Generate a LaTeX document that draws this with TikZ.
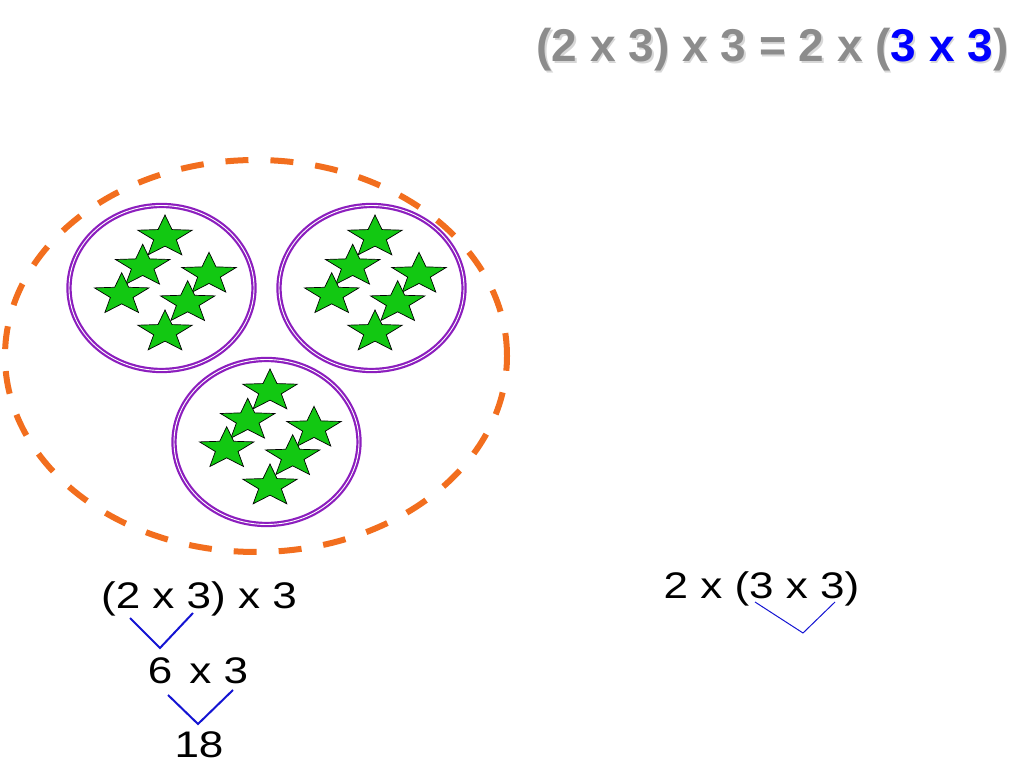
\documentclass[tikz,border=0pt]{standalone}
\usepackage{fontspec}
\setmainfont{Liberation Sans}
\usetikzlibrary{shapes.geometric}

\definecolor{ringorange}{RGB}{242,110,30}
\definecolor{ringpurple}{RGB}{140,30,190}
\definecolor{stargreen}{RGB}{18,200,18}
\definecolor{titlegray}{RGB}{140,140,140}
\definecolor{shadowgray}{RGB}{215,215,215}
\definecolor{stepblue}{RGB}{20,20,210}

\tikzset{
  greenstar/.style={star,star points=5,star point ratio=2.4,minimum size=44pt,
    inner sep=0pt,draw=black,line width=0.7pt,fill=stargreen,xscale=1.3,transform shape},
  groupring/.style={draw=ringpurple,line width=2.2pt,double=white,double distance=0.9pt},
  bigring/.style={draw=ringorange,line width=6pt,dash pattern=on 23pt off 22pt},
  sumtext/.style={inner sep=0pt,anchor=base,font=\fontsize{37}{40}\selectfont},
  bracket/.style={draw=stepblue,line width=2pt}
}

\begin{document}
\begin{tikzpicture}[x=1pt,y=1pt]
  \useasboundingbox (0,0) rectangle (1024,768);

  % title
  \node[inner sep=0pt,anchor=base,text=shadowgray,font=\fontsize{46}{50}\selectfont\bfseries]
    (titleshadow) at (774,704.5) {(2 x 3) x 3 = 2 x (3 x 3)};
  \node[inner sep=0pt,anchor=base,text=titlegray,font=\fontsize{46}{50}\selectfont\bfseries]
    (title) at (772.5,706) {(2 x 3) x 3 = 2 x (\textcolor{blue}{3 x 3})};

  % groups of stars
  \coordinate (g1) at (161.5,480);
  \coordinate (g2) at (371.5,480);
  \coordinate (g3) at (266.5,326);

  \draw[bigring] (256,412) ellipse [x radius=251,y radius=196];
  \foreach \g in {g1,g2,g3}{
    \draw[groupring] (\g) ellipse [x radius=92.5,y radius=82.5];
    \foreach \dx/\dy [count=\i] in {3.5/51,47.5/13.7,-18.8/21.7,-39.8/-6.7,26.2/-14.7,3.5/-44}{
      \node[greenstar] (\g-s\i) at ([shift={(\dx,\dy)}]\g) {};
    }
  }

  % left: (2 x 3) x 3
  \node[sumtext] (left1) at (199,160) {\scalebox{1.19}[1]{(2 x 3) x 3}};
  \node[sumtext] (left2) at (198,85) {\scalebox{1.19}[1]{6\hspace{4pt} x 3}};
  \node[sumtext] (left3) at (199,11) {\scalebox{1.19}[1]{18}};

  \coordinate (a1) at (130,150);
  \coordinate (a2) at (160,120);
  \coordinate (a3) at (193,155);
  \coordinate (b1) at (168,73);
  \coordinate (b2) at (198,44);
  \coordinate (b3) at (233,78);
  \draw[bracket] (a1) -- (a2) -- (a3);
  \draw[bracket] (b1) -- (b2) -- (b3);

  % right: 2 x (3 x 3)
  \node[sumtext] (right1) at (761.5,169) {\scalebox{1.19}[1]{2 x (3 x 3)}};

  \coordinate (c1) at (755,166);
  \coordinate (c2) at (803,135);
  \coordinate (c3) at (835,166);
  \draw[bracket,line width=1pt] (c1) -- (c2) -- (c3);
\end{tikzpicture}
\end{document}
